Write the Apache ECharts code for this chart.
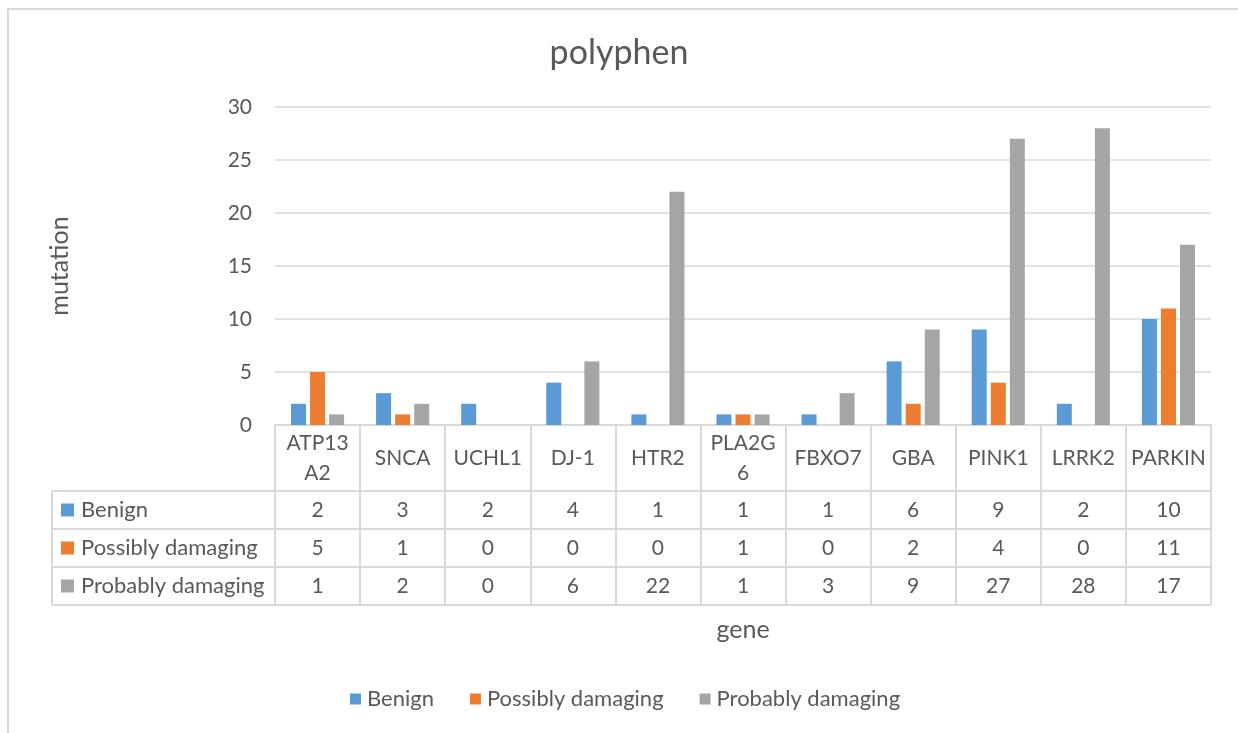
<!DOCTYPE html>
<html>
<head>
<meta charset="utf-8">
<script src="https://cdn.jsdelivr.net/npm/echarts@6/dist/echarts.min.js"></script>
<style>
html,body{margin:0;padding:0;background:#fff;}
#chart{width:1238px;height:733px;}
</style>
</head>
<body>
<div id="chart"></div>
<script>
var categories = ['ATP13\nA2','SNCA','UCHL1','DJ-1','HTR2','PLA2G\n6','FBXO7','GBA','PINK1','LRRK2','PARKIN'];
var seriesNames = ['Benign','Possibly damaging','Probably damaging'];
var benign = [2,3,2,4,1,1,1,6,9,2,10];
var possiblyDamaging = [5,1,0,0,0,1,0,2,4,0,11];
var probablyDamaging = [1,2,0,6,22,1,3,9,27,28,17];
var yTicks = [0,5,10,15,20,25,30];
var colors = ['#5B9BD5','#ED7D31','#A5A5A5'];

var FONT = 'Lato';
var TXT = '#595959';
var LINE = '#d9d9d9';
var gridLeft = 275, gridRight = 27, gridTop = 107, gridBottom = 308;
var H = 733;
var axisY = H - gridBottom;       // 425
var headerH = 66, rowH = 38, tableLeft = 52;
var allValues = [benign, possiblyDamaging, probablyDamaging];

var xAxes = [{
  type: 'category', data: categories, gridIndex: 0, position: 'bottom',
  name: 'gene', nameLocation: 'middle', nameGap: 205,
  nameTextStyle: {fontFamily: FONT, fontSize: 25, color: TXT, verticalAlign: 'middle'},
  axisLine: {show: true, lineStyle: {color: LINE, width: 2}},
  axisTick: {show: true, length: headerH, lineStyle: {color: LINE, width: 2}},
  axisLabel: {fontFamily: FONT, fontSize: 21, color: TXT, margin: headerH/2, verticalAlign: 'middle', lineHeight: 30, interval: 0}
}];
allValues.forEach(function(vals, i){
  xAxes.push({
    type: 'category', data: categories, gridIndex: 0, position: 'bottom',
    offset: headerH + i*rowH,
    axisLine: {show: true, lineStyle: {color: LINE, width: 2}},
    axisTick: {show: true, length: rowH, lineStyle: {color: LINE, width: 2}},
    axisLabel: {fontFamily: FONT, fontSize: 21, color: TXT, margin: rowH/2, verticalAlign: 'middle', interval: 0,
      formatter: function(v, idx){ return String(vals[idx]); }}
  });
});

var graphics = [{
  type: 'rect', silent: true,
  shape: {x: 8, y: 9, width: 1400, height: 900},
  style: {fill: 'none', stroke: LINE, lineWidth: 2}
}];
var tableBottom = axisY + headerH + rowH*3;
for (var r = 0; r <= 3; r++) {
  var yy = axisY + headerH + r*rowH;
  graphics.push({type: 'line', silent: true,
    shape: {x1: tableLeft, y1: yy, x2: (r === 3 ? 1238 - gridRight : gridLeft), y2: yy},
    style: {stroke: LINE, lineWidth: 2}});
}
graphics.push({type: 'line', silent: true,
  shape: {x1: tableLeft, y1: axisY + headerH, x2: tableLeft, y2: tableBottom},
  style: {stroke: LINE, lineWidth: 2}});
seriesNames.forEach(function(n, i){
  var cy = axisY + headerH + i*rowH + rowH/2;
  graphics.push({type: 'rect', silent: true, shape: {x: 61, y: cy - 6.5, width: 13, height: 13}, style: {fill: colors[i]}});
  graphics.push({type: 'text', silent: true, x: 81, y: cy,
    style: {text: n, font: '22px ' + FONT, fill: TXT, verticalAlign: 'middle', align: 'left'}});
});

var chart = echarts.init(document.getElementById('chart'), null, {renderer: 'canvas'});
chart.setOption({
  backgroundColor: '#fff',
  animation: false,
  color: colors,
  title: {text: 'polyphen', left: 'center', top: 36, padding: 0,
    textStyle: {fontFamily: FONT, fontSize: 34, fontWeight: 'normal', color: TXT}},
  legend: {data: seriesNames, left: 350, top: 688, padding: 0, itemWidth: 11, itemHeight: 11, itemGap: 36,
    icon: 'rect', textStyle: {fontFamily: FONT, fontSize: 22, color: TXT, padding: [0,0,0,1]}},
  grid: {left: gridLeft, right: gridRight, top: gridTop, bottom: gridBottom, containLabel: false},
  xAxis: xAxes,
  yAxis: {type: 'value', min: yTicks[0], max: yTicks[yTicks.length-1], interval: yTicks[1]-yTicks[0],
    name: 'mutation', nameLocation: 'middle', nameGap: 215, nameRotate: 90,
    nameTextStyle: {fontFamily: FONT, fontSize: 25, color: TXT, verticalAlign: 'middle'},
    axisLine: {show: false}, axisTick: {show: false},
    axisLabel: {fontFamily: FONT, fontSize: 21, color: TXT, margin: 23},
    splitLine: {lineStyle: {color: LINE, width: 1.5}}},
  series: [
    {name: seriesNames[0], type: 'bar', data: benign, barWidth: 15, barGap: '27%', xAxisIndex: 0},
    {name: seriesNames[1], type: 'bar', data: possiblyDamaging, barWidth: 15, barGap: '27%', xAxisIndex: 0},
    {name: seriesNames[2], type: 'bar', data: probablyDamaging, barWidth: 15, barGap: '27%', xAxisIndex: 0}
  ],
  graphic: graphics
});
</script>
</body>
</html>
